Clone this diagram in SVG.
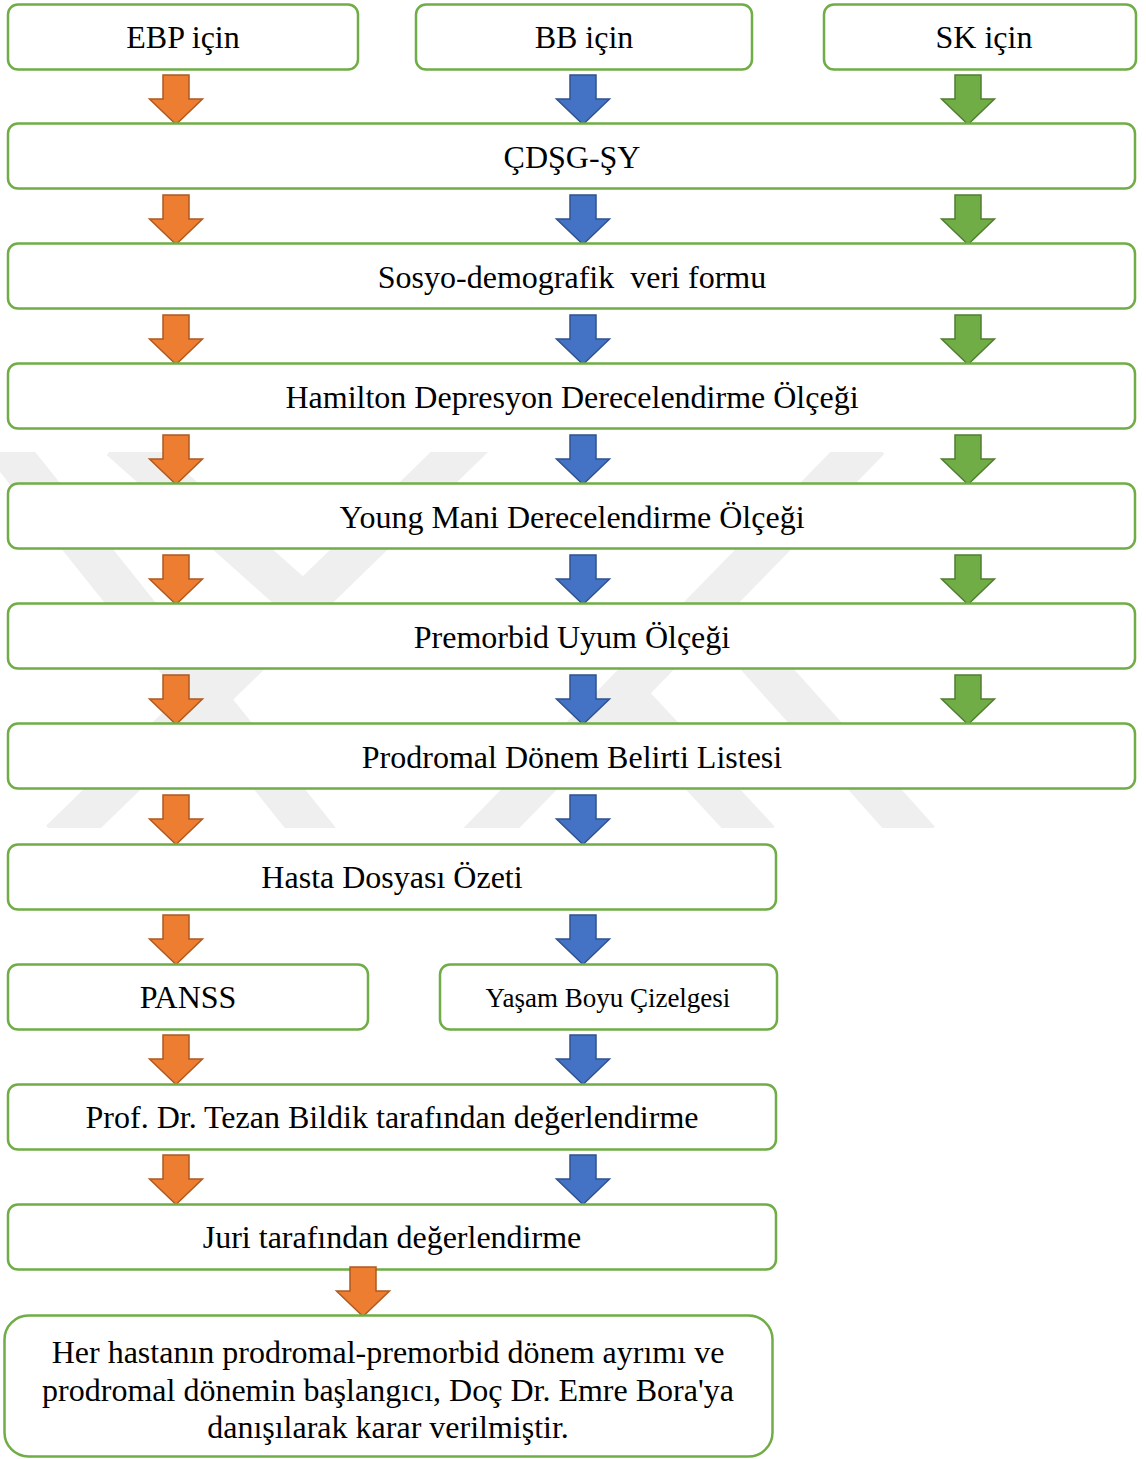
<svg xmlns="http://www.w3.org/2000/svg" width="1146" height="1459" viewBox="0 0 1146 1459">
<style>
.box{fill:#ffffff;stroke:#70ad47;stroke-width:2.5}
.t{font-family:"Liberation Serif","Times New Roman",serif;font-size:32px;fill:#000;text-anchor:middle}
.ts{font-size:27px}
.ao{fill:#ed7d31;stroke:#ae5a21;stroke-width:1.5}
.ab{fill:#4472c4;stroke:#2f528f;stroke-width:1.5}
.ag{fill:#70ad47;stroke:#507e32;stroke-width:1.5}
.wm{fill:none;stroke:#efefef;stroke-width:40;stroke-linecap:butt}
</style>
<defs>
<clipPath id="wmclip"><rect x="0" y="452" width="1146" height="376"/></clipPath>
<polygon id="arr" points="-13,0 13,0 13,24 26.5,24 0,49.5 -26.5,24 -13,24"/>
</defs>
<rect x="0" y="0" width="1146" height="1459" fill="#ffffff"/>
<g id="watermark" class="wm" clip-path="url(#wmclip)">
<line x1="0" y1="440" x2="320" y2="840"/>
<line x1="120" y1="440" x2="305" y2="605"/>
<line x1="60" y1="840" x2="480" y2="432"/>
<line x1="870" y1="440" x2="470" y2="850"/>
<line x1="630" y1="700" x2="760" y2="840"/>
<line x1="750" y1="650" x2="920" y2="840"/>
</g>
<g id="connectors">
<use href="#arr" x="176" y="75" class="ao"/><use href="#arr" x="583" y="75" class="ab"/><use href="#arr" x="968" y="75" class="ag"/>
<use href="#arr" x="176" y="195" class="ao"/><use href="#arr" x="583" y="195" class="ab"/><use href="#arr" x="968" y="195" class="ag"/>
<use href="#arr" x="176" y="315" class="ao"/><use href="#arr" x="583" y="315" class="ab"/><use href="#arr" x="968" y="315" class="ag"/>
<use href="#arr" x="176" y="435" class="ao"/><use href="#arr" x="583" y="435" class="ab"/><use href="#arr" x="968" y="435" class="ag"/>
<use href="#arr" x="176" y="555" class="ao"/><use href="#arr" x="583" y="555" class="ab"/><use href="#arr" x="968" y="555" class="ag"/>
<use href="#arr" x="176" y="675" class="ao"/><use href="#arr" x="583" y="675" class="ab"/><use href="#arr" x="968" y="675" class="ag"/>
<use href="#arr" x="176" y="795" class="ao"/><use href="#arr" x="583" y="795" class="ab"/>
<use href="#arr" x="176" y="915" class="ao"/><use href="#arr" x="583" y="915" class="ab"/>
<use href="#arr" x="176" y="1035" class="ao"/><use href="#arr" x="583" y="1035" class="ab"/>
<use href="#arr" x="176" y="1155" class="ao"/><use href="#arr" x="583" y="1155" class="ab"/>
</g>
<g id="n-ebp"><rect class="box" x="8" y="4.5" width="350" height="65" rx="10"/><text class="t" x="183" y="48">EBP için</text></g>
<g id="n-bb"><rect class="box" x="416" y="4.5" width="336" height="65" rx="10"/><text class="t" x="584" y="48">BB için</text></g>
<g id="n-sk"><rect class="box" x="824" y="4.5" width="312" height="65" rx="10"/><text class="t" x="984" y="48">SK için</text></g>
<g id="n-cdsg"><rect class="box" x="8" y="123.5" width="1127" height="65" rx="10"/><text class="t" x="572" y="168">ÇDŞG-ŞY</text></g>
<g id="n-sosyo"><rect class="box" x="8" y="243.5" width="1127" height="65" rx="10"/><text class="t" x="572" y="288">Sosyo-demografik&#160; veri formu</text></g>
<g id="n-hamilton"><rect class="box" x="8" y="363.5" width="1127" height="65" rx="10"/><text class="t" x="572" y="408">Hamilton Depresyon Derecelendirme Ölçeği</text></g>
<g id="n-young"><rect class="box" x="8" y="483.5" width="1127" height="65" rx="10"/><text class="t" x="572" y="528">Young Mani Derecelendirme Ölçeği</text></g>
<g id="n-premorbid"><rect class="box" x="8" y="603.5" width="1127" height="65" rx="10"/><text class="t" x="572" y="648">Premorbid Uyum Ölçeği</text></g>
<g id="n-prodromal"><rect class="box" x="8" y="723.5" width="1127" height="65" rx="10"/><text class="t" x="572" y="768">Prodromal Dönem Belirti Listesi</text></g>
<g id="n-hasta"><rect class="box" x="8" y="844.5" width="768" height="65" rx="10"/><text class="t" x="392" y="888">Hasta Dosyası Özeti</text></g>
<g id="n-panss"><rect class="box" x="8" y="964.5" width="360" height="65" rx="10"/><text class="t" x="188" y="1008">PANSS</text></g>
<g id="n-yasam"><rect class="box" x="440" y="964.5" width="337" height="65" rx="10"/><text class="t ts" x="608" y="1007">Yaşam Boyu Çizelgesi</text></g>
<g id="n-prof"><rect class="box" x="8" y="1084.5" width="768" height="65" rx="10"/><text class="t" x="392" y="1128">Prof. Dr. Tezan Bildik tarafından değerlendirme</text></g>
<g id="n-juri"><rect class="box" x="8" y="1204.5" width="768" height="65" rx="10"/><text class="t" x="392" y="1248">Juri tarafından değerlendirme</text></g>
<g id="connector-final"><use href="#arr" x="363" y="1267" class="ao"/></g>
<g id="n-final"><rect class="box" x="4.5" y="1315.5" width="768" height="141" rx="24"/>
<text class="t" x="388" y="1363">Her hastanın prodromal-premorbid dönem ayrımı ve</text>
<text class="t" x="388" y="1400.5">prodromal dönemin başlangıcı, Doç Dr. Emre Bora'ya</text>
<text class="t" x="388" y="1438">danışılarak karar verilmiştir.</text></g>
</svg>
